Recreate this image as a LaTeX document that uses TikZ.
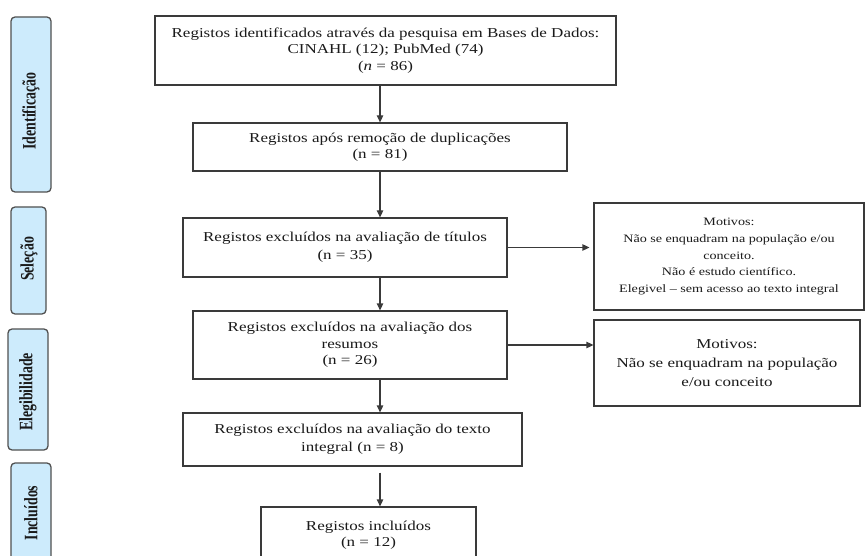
\documentclass[tikz,border=0pt]{standalone}
\usepackage{fontspec}
\setmainfont[FakeStretch=1.25]{Liberation Serif}
\newfontfamily\fasefont[FakeStretch=0.73]{Liberation Serif}
\usepackage{tikz}
\usetikzlibrary{arrows.meta}
\definecolor{azulfase}{HTML}{CDEBFC}
\definecolor{bordafase}{HTML}{505050}
\definecolor{borda}{HTML}{3A3A3A}
\definecolor{texto}{HTML}{1A1A1A}
\begin{document}
\begin{tikzpicture}[x=1pt,y=-1pt,
		caixa/.style={draw=borda,line width=1.3pt,fill=white,align=center,inner sep=2pt,
			text=texto,font=\fontsize{13.6}{16.5}\selectfont},
		fase/.style={draw=bordafase,line width=1.3pt,fill=azulfase,rounded corners=4pt},
		faselbl/.style={rotate=90,text=texto,font=\fasefont\bfseries\fontsize{19}{20}\selectfont},
		seta/.style={-{Triangle[length=7pt,width=6.5pt]},line width=1.3pt,draw=borda}]
	\useasboundingbox (0,0) rectangle (865,556);
	\clip (0,0) rectangle (865,556);
	% fases
	\draw[fase] (11,17) rectangle (51,192);
	\node[faselbl] (ident) at (31,111) {Identificação};
	\draw[fase] (11,207) rectangle (46,314);
	\node[faselbl] (selec) at (29,259) {Seleção};
	\draw[fase] (8,329) rectangle (48,450);
	\node[faselbl] (eleg) at (28,392) {Elegibilidade};
	\draw[fase] (11,463) rectangle (51,580);
	\node[faselbl] (incl) at (31,513) {Incluídos};
	% caixas principais
	\node[caixa,minimum width=461pt,minimum height=69pt] (b1) at (385.5,50.5)
		{Registos identificados através da pesquisa em Bases de Dados:\\ CINAHL (12); PubMed (74)\\ (\textit{n} = 86)};
	\node[caixa,minimum width=374pt,minimum height=48pt] (b2) at (380,147)
		{Registos após remoção de duplicações\\ (n = 81)};
	\node[caixa,minimum width=324pt,minimum height=59pt,font=\fontsize{13.6}{18}\selectfont] (b3) at (345,247.5)
		{Registos excluídos na avaliação de títulos\\ (n = 35)};
	\node[caixa,minimum width=314pt,minimum height=68pt] (b4) at (350,345)
		{Registos excluídos na avaliação dos\\ resumos\\ (n = 26)};
	\node[caixa,minimum width=339pt,minimum height=53pt,font=\fontsize{13.6}{18}\selectfont] (b5) at (352.5,439.5)
		{Registos excluídos na avaliação do texto\\ integral (n = 8)};
	\node[caixa,minimum width=215pt,minimum height=56pt] (b6) at (368.5,535)
		{Registos incluídos\\ (n = 12)};
	% motivos
	\node[caixa,minimum width=270pt,minimum height=107pt,font=\fontsize{11.3}{16.7}\selectfont] (r1) at (729,256.5)
		{Motivos:\\ Não se enquadram na população e/ou\\ conceito.\\ Não é estudo científico.\\ Elegivel -- sem acesso ao texto integral};
	\node[caixa,minimum width=266pt,minimum height=86pt,font=\fontsize{13.6}{19}\selectfont] (r2) at (727,363)
		{Motivos:\\ Não se enquadram na população\\ e/ou conceito};
	% setas
	\draw[seta] (b1.south -| b2.north) -- (b2.north);
	\draw[seta] (b2.south) -- (b2.south |- b3.north);
	\draw[seta] (b3.south -| b2.south) -- (b4.north -| b2.south);
	\draw[seta] (b4.south -| b2.south) -- (b5.north -| b2.south);
	\draw[seta,shorten <=6pt] (b5.south -| b2.south) -- (b6.north -| b2.south);
	\draw[seta,shorten >=4pt] (b3.east) -- (b3.east -| r1.west);
	\draw[seta] (b4.east) -- (b4.east -| r2.west);
\end{tikzpicture}
\end{document}
